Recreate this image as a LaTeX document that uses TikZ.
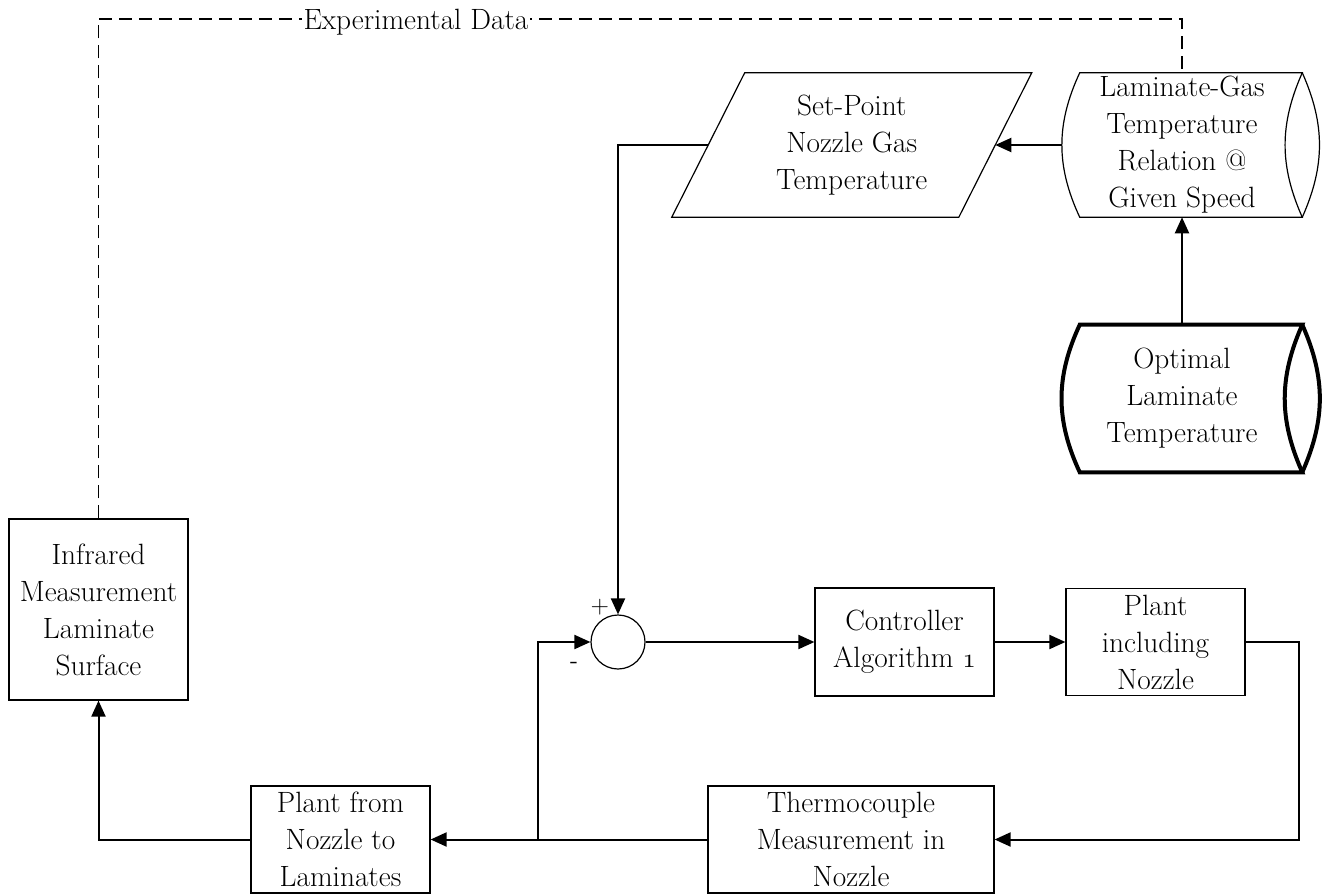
\documentclass[tikz,border=0pt]{standalone}
\usetikzlibrary{arrows.meta,calc}

% outline of a lying cylinder: curved left end, lens-shaped end on the right
% #1 node, #2 line width, #3 bend of the left end, #4 bend of the right end
\newcommand\drawcyl[4]{%
  \draw[line width=#2, line join=miter]
    ($(#1.north west)+(18,0)$) -- (#1.north east)
    to[bend right=#4] (#1.south east)
    -- ($(#1.south west)+(18,0)$)
    to[bend left=#3] cycle;
  \draw[line width=#2, line join=miter]
    (#1.north east) to[bend left=#4] (#1.south east);
}
% old-style figure one
\newcommand\oldone{{\usefont{OML}{cmm}{m}{it}1}}

\begin{document}
\begin{tikzpicture}[x=0.75pt, y=-0.75pt,
  txt/.style={font=\fontsize{22}{27.75}\selectfont, align=center, inner sep=0pt},
  blk/.style={txt, draw, rectangle, line width=0.9pt},
  wire/.style={line width=1.5pt},
  conn/.style={wire, -{Triangle[length=12pt, width=10.5pt]}},
  dashline/.style={line width=1.4pt, dash pattern=on 10pt off 5pt},
  sign/.style={font=\sffamily\fontsize{19}{19}\selectfont, inner sep=0pt}
]
\useasboundingbox (0,0) rectangle (1324,895);

% blocks
\node[blk, minimum width=134.25pt, minimum height=135.75pt] (inf) at (98.5,609.5)
  {Infrared\\Measurement\\Laminate\\Surface};
\node[blk, minimum width=134.25pt, minimum height=80.25pt] (pfn) at (340.5,839.5)
  {Plant from\\Nozzle to\\Laminates};
\node[blk, minimum width=214.5pt, minimum height=80.25pt] (tc) at (851,839.5)
  {Thermocouple\\Measurement in\\Nozzle};
\node[blk, minimum width=134.25pt, minimum height=81pt] (ctrl) at (904.5,642)
  {Controller\\Algorithm \oldone};
\node[blk, minimum width=134.25pt, minimum height=80.25pt] (pin) at (1155.5,642)
  {Plant\\including\\Nozzle};
\node[draw, circle, line width=0.9pt, minimum size=40.5pt, inner sep=0pt] (sum) at (618,642) {};

% set-point input (parallelogram)
\node[txt, minimum width=214.9pt, minimum height=108pt] (sp) at (851.75,145)
  {Set-Point\\Nozzle Gas\\Temperature};
\draw[line width=0.9pt] ($(sp.north west)+(36.5,0)$) -- ($(sp.north east)+(36.5,0)$)
  -- ($(sp.south east)+(-36.5,0)$) -- ($(sp.south west)+(-36.5,0)$) -- cycle;

% stored data (cylinders)
\node[txt, minimum width=180pt, minimum height=108pt] (lg) at (1182,145)
  {Laminate-Gas\\Temperature\\Relation @\\Given Speed};
\drawcyl{lg}{0.9pt}{25}{24}
\node[txt, minimum width=180pt, minimum height=110.25pt] (opt) at (1182,398.5)
  {Optimal\\Laminate\\Temperature};
\drawcyl{opt}{3pt}{25}{24}

% signal flow
\coordinate (j) at (538,839.5);
\coordinate (rt) at (1299,642);
\coordinate (dt) at (1182,19);

\draw[conn] (opt.north) -- (lg.south);
\draw[conn] (lg.west) -- (sp.east);
\draw[conn] (sp.west) -| (sum.north);
\draw[conn] (sum.east) -- (ctrl.west);
\draw[conn] (ctrl.east) -- (pin.west);
\draw[conn] (pin.east) -- (rt) |- (tc.east);
\draw[conn] (tc.west) -- (pfn.east);
\draw[conn] (j) |- (sum.west);
\draw[conn] (pfn.west) -| (inf.south);

% experimental data feedback
\draw[dashline] (inf.north) |- (dt) -- (lg.north);
\node[txt, fill=white, inner xsep=1pt, anchor=base] (exp) at (416,30) {Experimental Data};

% summing junction signs
\node[sign] (plus) at (600,607) {+};
\node[sign] (minus) at (574,665) {-};
\end{tikzpicture}
\end{document}
